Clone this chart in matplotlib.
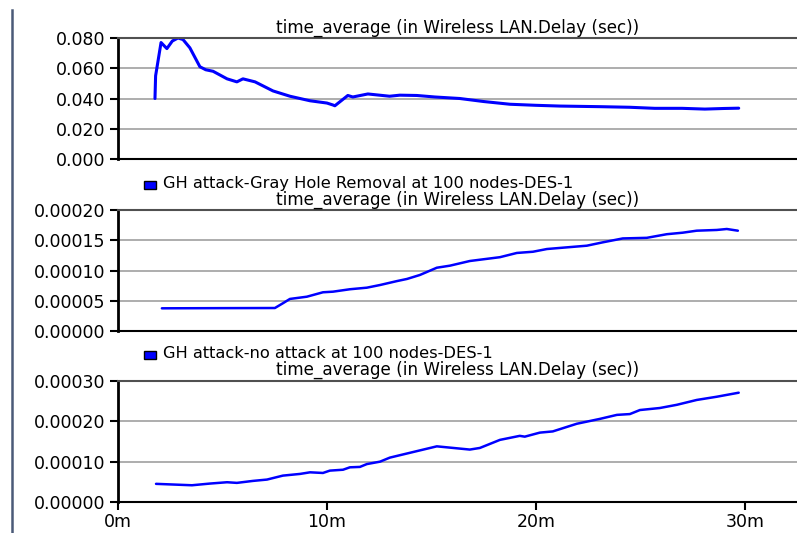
import numpy as np
import matplotlib
matplotlib.use("Agg")
import matplotlib.pyplot as plt
from matplotlib.patches import Rectangle
from matplotlib.lines import Line2D
from matplotlib.ticker import FormatStrFormatter

# data (time in minutes)
t1 = [1.77, 1.80, 2.06, 2.34, 2.6, 2.87, 3.11, 3.44, 3.92, 4.2, 4.55, 5.22, 5.69, 5.98,
      6.56, 7.42, 8.23, 9.19, 10.0, 10.29, 10.38, 11.0, 11.24, 11.96, 13.0, 13.49, 14.3,
      15.17, 16.36, 17.5, 18.76, 20.0, 21.15, 23.06, 24.5, 25.69, 27.0, 28.09, 29.0, 29.71]
v1 = [0.040, 0.055, 0.077, 0.073, 0.078, 0.080, 0.079, 0.0735, 0.061, 0.059, 0.058, 0.053,
      0.051, 0.053, 0.051, 0.045, 0.0415, 0.0385, 0.037, 0.0357, 0.0352, 0.042, 0.041,
      0.043, 0.0415, 0.0422, 0.042, 0.041, 0.040, 0.038, 0.0362, 0.0355, 0.035, 0.0346,
      0.0342, 0.0335, 0.0335, 0.033, 0.0334, 0.0336]

t2 = [2.1, 5.0, 7.51, 7.89, 8.23, 9.04, 9.81, 10.29, 11.1, 11.91, 12.54, 13.35, 13.83,
      14.45, 15.26, 15.89, 16.84, 18.28, 19.09, 19.86, 20.53, 21.29, 22.44, 23.21, 24.16,
      25.31, 26.27, 27.03, 27.70, 28.66, 29.14, 29.67]
v2 = [0.0000375, 0.0000378, 0.0000380, 0.0000458, 0.000053, 0.0000567, 0.000064, 0.000065,
      0.000069, 0.0000716, 0.000076, 0.0000825, 0.000086, 0.0000926, 0.0001046, 0.000108,
      0.0001157, 0.000122, 0.000129, 0.000131, 0.0001355, 0.0001377, 0.000141, 0.0001466,
      0.000153, 0.000154, 0.00016, 0.0001625, 0.0001658, 0.000167, 0.0001686, 0.0001658]

t3 = [1.82, 3.54, 4.40, 5.22, 5.69, 6.46, 7.13, 7.89, 8.71, 9.19, 9.81, 10.14, 10.77, 11.1,
      11.58, 11.91, 12.54, 13.01, 13.49, 15.26, 16.84, 17.32, 18.28, 19.23, 19.47, 20.19,
      20.81, 21.96, 23.06, 23.88, 24.5, 24.98, 25.93, 26.75, 27.70, 28.66, 29.71]
v3 = [0.000045, 0.0000415, 0.0000457, 0.000049, 0.0000474, 0.0000523, 0.0000556, 0.0000654,
      0.0000696, 0.0000736, 0.000072, 0.0000778, 0.00008, 0.000086, 0.000087, 0.000094,
      0.0001, 0.00011, 0.000116, 0.000138, 0.00013, 0.000134, 0.000154, 0.000164, 0.000162,
      0.000172, 0.000175, 0.000194, 0.000206, 0.000216, 0.000218, 0.000228, 0.000233,
      0.000241, 0.000253, 0.000261, 0.000271]

yticks1 = [0.0, 0.02, 0.04, 0.06, 0.08]
yticks2 = [0.0, 0.00005, 0.0001, 0.00015, 0.0002]
yticks3 = [0.0, 0.0001, 0.0002, 0.0003]
xticks = [0, 10, 20, 30]
xlabels = ["0m", "10m", "20m", "30m"]

title = "time_average (in Wireless LAN.Delay (sec))"
legends = ["GH attack-Gray Hole Removal at 100 nodes-DES-1",
           "GH attack-no attack at 100 nodes-DES-1"]

plt.rcParams["font.family"] = "DejaVu Sans"
fs = 12.5
fs_txt = 11.7

W, H = 797, 533
fig = plt.figure(figsize=(W / 100, H / 100), dpi=100)

def px(x, y):
    return x / W, 1 - y / H

panels = [(38, 159, t1, v1, yticks1, "%.3f", 2.2),
          (210, 331, t2, v2, yticks2, "%.5f", 1.8),
          (381, 502, t3, v3, yticks3, "%.5f", 1.8)]

axes = []
for i, (top, bot, t, v, yt, fmt, lw) in enumerate(panels):
    ax = fig.add_axes([118 / W, 1 - bot / H, (W - 118) / W, (bot - top) / H])
    ax.plot(t, v, color="#0000ff", lw=lw, solid_capstyle="round")
    ax.set_xlim(0, 32.5)
    ax.set_ylim(yt[0], yt[-1])
    ax.set_yticks(yt)
    ax.yaxis.set_major_formatter(FormatStrFormatter(fmt))
    for y in yt[1:-1]:
        ax.axhline(y, color="#a0a0a0", lw=1.2, zorder=0)
    ax.spines["right"].set_visible(False)
    ax.spines["top"].set_color("#505050")
    ax.spines["top"].set_linewidth(1.5)
    ax.spines["left"].set_linewidth(2.0)
    ax.spines["bottom"].set_linewidth(1.5)
    ax.tick_params(axis="y", direction="out", length=6, width=1.5, labelsize=fs, pad=3)
    if i < 2:
        ax.tick_params(axis="x", bottom=False, labelbottom=False)
    else:
        ax.set_xticks(xticks)
        ax.set_xticklabels(xlabels)
        ax.tick_params(axis="x", direction="out", length=6, width=1.5, labelsize=fs, pad=2)
    axes.append(ax)

# titles and legend rows (baseline positions)
title_y = [33, 204.5, 374.5]
for y in title_y:
    fig.text(457.5 / W, 1 - y / H, title, ha="center", va="baseline", fontsize=fs_txt + 0.4)

legend_y = [188, 358]
for y, lab in zip(legend_y, legends):
    x0, y0 = px(144, y + 1)
    fig.add_artist(Rectangle((x0, y0), 12 / W, 8 / H, transform=fig.transFigure,
                             facecolor="#0000ff", edgecolor="black", lw=1.0))
    fig.text(163 / W, 1 - y / H, lab, ha="left", va="baseline", fontsize=fs_txt)

# left frame line
fig.add_artist(Line2D([12 / W, 12 / W], [1 - 10 / H, 0], transform=fig.transFigure,
                      color="#4a5a78", lw=1.8))

fig.savefig("out.png", dpi=100)
